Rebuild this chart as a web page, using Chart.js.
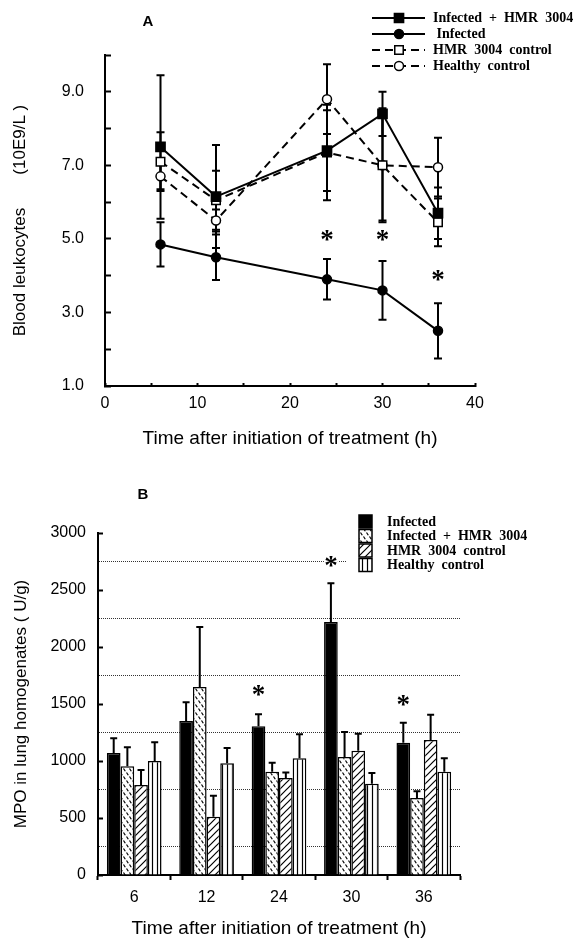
<!DOCTYPE html>
<html>
<head>
<meta charset="utf-8">
<script src="https://cdn.jsdelivr.net/npm/chart.js@4.4.0/dist/chart.umd.min.js"></script>
<style>
  html, body { margin: 0; padding: 0; background: #fff; }
  #wrap { position: relative; width: 581px; height: 946px; }
  #chartA { position: absolute; left: 0; top: 0; }
  #chartB { position: absolute; left: 0; top: 460px; }
</style>
</head>
<body>
<div id="wrap">
  <canvas id="chartA" width="581" height="460"></canvas>
  <canvas id="chartB" width="581" height="486"></canvas>
</div>
<script>
// ---- panel A : blood leukocytes (10E9/L), mean +/- error ----
var timesA = [6, 12, 24, 30, 36];
var infHmrA = [7.5, 6.15, 7.4, 8.4, 5.7];
var infHmrErrA = [1.95, 1.4, 1.1, 0.6, 0.7];
var infectedA = [4.85, 4.5, 3.9, 3.6, 2.5];
var infectedErrA = [0.6, 0.62, 0.55, 0.8, 0.75];
var hmrCtrlA = [7.1, 6.05, 7.35, 7.0, 5.45];
var hmrCtrlErrA = [0.8, 0.8, 1.3, 1.5, 0.65];
var healthyA = [6.7, 5.5, 8.8, 7.0, 6.95];
var healthyErrA = [0.35, 0.3, 0.95, 1.55, 0.8];
var starTimesA = [24, 30, 36];
var starLevelsA = [5.1, 5.1, 4.0];

// ---- panel B : MPO in lung homogenates (U/g) ----
var groupsB = ['6', '12', '24', '30', '36'];
var infectedB = [1070, 1350, 1305, 2220, 1160];
var infectedErrB = [130, 165, 105, 340, 175];
var infHmrB = [955, 1650, 905, 1035, 675];
var infHmrErrB = [165, 525, 80, 220, 60];
var hmrCtrlB = [790, 510, 850, 1090, 1185];
var hmrCtrlErrB = [130, 185, 50, 150, 220];
var healthyB = [1000, 980, 1025, 800, 905];
var healthyErrB = [165, 135, 210, 95, 120];
var starGroupsB = [2, 3, 4];
var starLevelsB = [1620, 2750, 1535];

Chart.defaults.font.family = '"Liberation Sans", Arial, sans-serif';
Chart.defaults.color = '#000';
Chart.defaults.animation = false;

function pts(vals) {
  return timesA.map(function (t, i) { return { x: t, y: vals[i] }; });
}

function drawStar(ctx, x, y) {
  ctx.save();
  ctx.font = 'bold 27px "Liberation Serif", serif';
  ctx.fillStyle = '#000';
  ctx.textAlign = 'center';
  ctx.textBaseline = 'alphabetic';
  var m = ctx.measureText('*');
  ctx.fillText('*', x, y + (m.actualBoundingBoxAscent - m.actualBoundingBoxDescent) / 2);
  ctx.restore();
}

// whiskers + stars + legend for A
var extrasA = {
  id: 'extrasA',
  beforeDatasetsDraw: function (chart) {
    var ctx = chart.ctx, xs = chart.scales.x, ys = chart.scales.y;
    ctx.save();
    ctx.strokeStyle = '#000';
    ctx.lineWidth = 2;
    chart.data.datasets.forEach(function (ds) {
      ds.errors.forEach(function (e, i) {
        var x = xs.getPixelForValue(ds.data[i].x);
        var y1 = ys.getPixelForValue(ds.data[i].y + e);
        var y2 = ys.getPixelForValue(ds.data[i].y - e);
        ctx.beginPath();
        ctx.moveTo(x, y1); ctx.lineTo(x, y2);
        ctx.moveTo(x - 4, y1); ctx.lineTo(x + 4, y1);
        ctx.moveTo(x - 4, y2); ctx.lineTo(x + 4, y2);
        ctx.stroke();
      });
    });
    ctx.restore();
  },
  afterDraw: function (chart) {
    var ctx = chart.ctx, xs = chart.scales.x, ys = chart.scales.y;
    starTimesA.forEach(function (t, i) {
      drawStar(ctx, xs.getPixelForValue(t), ys.getPixelForValue(starLevelsA[i]));
    });
    // title letter
    ctx.save();
    ctx.font = 'bold 15px "Liberation Sans", Arial, sans-serif';
    ctx.textAlign = 'center';
    ctx.textBaseline = 'middle';
    ctx.fillText('A', 148, 22);
    ctx.restore();
    // legend
    chart.data.datasets.forEach(function (ds, row) {
      var y = 18 + row * 16;
      ctx.save();
      ctx.strokeStyle = '#000';
      ctx.lineWidth = 2;
      ctx.setLineDash(ds.borderDash || []);
      ctx.beginPath();
      ctx.moveTo(372, y); ctx.lineTo(425, y);
      ctx.stroke();
      ctx.setLineDash([]);
      ctx.fillStyle = ds.pointBackgroundColor;
      ctx.strokeStyle = '#000';
      ctx.lineWidth = ds.pointBorderWidth;
      Chart.helpers.drawPoint(ctx, { pointStyle: ds.pointStyle, radius: ds.pointRadius, rotation: 0, borderWidth: ds.pointBorderWidth }, 399, y);
      ctx.font = 'bold 14px "Liberation Serif", "Times New Roman", serif';
      ctx.fillStyle = '#000';
      ctx.textBaseline = 'middle';
      ctx.fillText(ds.label, 433, y);
      ctx.restore();
    });
  }
};

new Chart(document.getElementById('chartA'), {
  type: 'line',
  data: {
    datasets: [{
      label: 'Infected  +  HMR  3004',
      data: pts(infHmrA),
      errors: infHmrErrA,
      borderColor: '#000',
      borderWidth: 2,
      pointStyle: 'rect',
      pointRadius: 6.5,
      pointBackgroundColor: '#000',
      pointBorderColor: '#000',
      pointBorderWidth: 1.5
    }, {
      label: ' Infected',
      data: pts(infectedA),
      errors: infectedErrA,
      borderColor: '#000',
      borderWidth: 2,
      pointStyle: 'circle',
      pointRadius: 4.5,
      pointBackgroundColor: '#000',
      pointBorderColor: '#000',
      pointBorderWidth: 1.5
    }, {
      label: 'HMR  3004  control',
      data: pts(hmrCtrlA),
      errors: hmrCtrlErrA,
      borderColor: '#000',
      borderWidth: 2,
      borderDash: [8, 5],
      pointStyle: 'rect',
      pointRadius: 6,
      pointBackgroundColor: '#fff',
      pointBorderColor: '#000',
      pointBorderWidth: 1.5
    }, {
      label: 'Healthy  control',
      data: pts(healthyA),
      errors: healthyErrA,
      borderColor: '#000',
      borderWidth: 2,
      borderDash: [8, 5],
      pointStyle: 'circle',
      pointRadius: 4.5,
      pointBackgroundColor: '#fff',
      pointBorderColor: '#000',
      pointBorderWidth: 1.5
    }]
  },
  options: {
    responsive: false,
    layout: { padding: { left: 0, top: 55, right: 106, bottom: 0 } },
    plugins: { legend: { display: false }, tooltip: { enabled: false } },
    scales: {
      x: {
        type: 'linear', min: 0, max: 40,
        ticks: {
          stepSize: 5, padding: 11, autoSkip: false, maxRotation: 0,
          font: { size: 16 },
          callback: function (v) { return v % 10 === 0 ? String(v) : ''; }
        },
        grid: { drawOnChartArea: false, tickLength: -3, tickWidth: 2, tickColor: '#000' },
        border: { color: '#000', width: 2 },
        title: { display: true, text: 'Time after initiation of treatment (h)', font: { size: 19 }, padding: { top: 0, bottom: 10 } },
        afterFit: function (s) { s.height = 74; }
      },
      y: {
        min: 1, max: 10,
        ticks: {
          stepSize: 1, padding: 27, font: { size: 16 },
          callback: function (v) { return v % 2 === 1 ? v.toFixed(1) : ''; }
        },
        grid: { drawOnChartArea: false, tickLength: -6, tickWidth: 2, tickColor: '#000' },
        border: { color: '#000', width: 2 },
        title: { display: true, text: 'Blood leukocytes       (10E9/L )', font: { size: 17 }, padding: { top: 10, bottom: 0 } },
        afterFit: function (s) { s.width = 105; }
      }
    }
  },
  plugins: [extrasA]
});

// ---- patterns for panel B ----
function makePattern(w, h, draw) {
  var c = document.createElement('canvas');
  c.width = w; c.height = h;
  var g = c.getContext('2d');
  g.fillStyle = '#fff';
  g.fillRect(0, 0, w, h);
  g.strokeStyle = '#000';
  g.lineWidth = 1.2;
  draw(g);
  return g.createPattern(c, 'repeat');
}
var ctxB = document.getElementById('chartB').getContext('2d');
var patDashes = makePattern(6, 8, function (g) {
  g.beginPath();
  g.moveTo(0.5, 0.5); g.lineTo(2.3, 3.3);
  g.moveTo(3.5, 4.5); g.lineTo(5.3, 7.3);
  g.stroke();
});
var patHatch = makePattern(7, 7, function (g) {
  g.beginPath();
  g.moveTo(-1, 8); g.lineTo(8, -1);
  g.moveTo(-2, 2); g.lineTo(2, -2);
  g.moveTo(5, 9); g.lineTo(9, 5);
  g.stroke();
});
var patVert = makePattern(5, 4, function (g) {
  g.beginPath();
  g.moveTo(2.5, 0); g.lineTo(2.5, 4);
  g.stroke();
});

var extrasB = {
  id: 'extrasB',
  afterDatasetsDraw: function (chart) {
    var ctx = chart.ctx, ys = chart.scales.y;
    ctx.save();
    ctx.strokeStyle = '#000';
    ctx.lineWidth = 2;
    chart.data.datasets.forEach(function (ds, di) {
      var meta = chart.getDatasetMeta(di);
      meta.data.forEach(function (bar, i) {
        var x = bar.x;
        var yTop = ys.getPixelForValue(ds.data[i] + ds.errors[i]);
        ctx.beginPath();
        ctx.moveTo(x, bar.y); ctx.lineTo(x, yTop);
        ctx.moveTo(x - 3.5, yTop); ctx.lineTo(x + 3.5, yTop);
        ctx.stroke();
      });
    });
    ctx.restore();
  },
  afterDraw: function (chart) {
    var ctx = chart.ctx, ys = chart.scales.y;
    var meta0 = chart.getDatasetMeta(0);
    starGroupsB.forEach(function (gi, k) {
      var x = meta0.data[gi].x;
      var y = ys.getPixelForValue(starLevelsB[k]);
      ctx.save();
      ctx.fillStyle = '#fff';
      ctx.fillRect(x - 7, y - 6, 14, 12);
      ctx.restore();
      drawStar(ctx, x, y);
    });
    // title letter
    ctx.save();
    ctx.font = 'bold 15px "Liberation Sans", Arial, sans-serif';
    ctx.textAlign = 'center';
    ctx.textBaseline = 'middle';
    ctx.fillStyle = '#000';
    ctx.fillText('B', 143, 35);
    // legend
    ctx.fillStyle = '#fff';
    ctx.fillRect(346, 50, 200, 66);
    chart.data.datasets.forEach(function (ds, row) {
      var by = 55 + row * 14.5;
      ctx.fillStyle = ds.backgroundColor;
      ctx.fillRect(359, by, 13, 13);
      ctx.strokeStyle = '#000';
      ctx.lineWidth = 1.5;
      ctx.strokeRect(359, by, 13, 13);
      ctx.font = 'bold 14px "Liberation Serif", "Times New Roman", serif';
      ctx.fillStyle = '#000';
      ctx.textAlign = 'left';
      ctx.textBaseline = 'middle';
      ctx.fillText(ds.label, 387, by + 7);
    });
    ctx.restore();
  }
};

new Chart(ctxB, {
  type: 'bar',
  data: {
    labels: groupsB,
    datasets: [{
      label: 'Infected',
      data: infectedB, errors: infectedErrB,
      backgroundColor: '#000'
    }, {
      label: 'Infected  +  HMR  3004',
      data: infHmrB, errors: infHmrErrB,
      backgroundColor: patDashes
    }, {
      label: 'HMR  3004  control',
      data: hmrCtrlB, errors: hmrCtrlErrB,
      backgroundColor: patHatch
    }, {
      label: 'Healthy  control',
      data: healthyB, errors: healthyErrB,
      backgroundColor: patVert
    }]
  },
  options: {
    responsive: false,
    layout: { padding: { left: 0, top: 73, right: 121, bottom: 0 } },
    datasets: {
      bar: { categoryPercentage: 0.755, barPercentage: 1.0, borderColor: '#000', borderWidth: 1.5, borderSkipped: 'start' }
    },
    plugins: { legend: { display: false }, tooltip: { enabled: false } },
    scales: {
      x: {
        offset: true,
        ticks: { padding: 8, font: { size: 16 } },
        grid: { offset: true, drawOnChartArea: false, tickLength: 5, tickWidth: 2, tickColor: '#000' },
        border: { color: '#000', width: 2 },
        title: { display: true, text: 'Time after initiation of treatment (h)', font: { size: 19 }, padding: { top: 0, bottom: 6 } },
        afterFit: function (s) { s.height = 71; }
      },
      y: {
        min: 0, max: 3000,
        ticks: {
          stepSize: 250, padding: 17, font: { size: 16 },
          callback: function (v) { return v % 500 === 0 ? String(v) : ''; }
        },
        grid: {
          lineWidth: 1,
          color: function (c) { return (c.tick && c.tick.value % 500 !== 0) ? '#333' : 'rgba(0,0,0,0)'; },
          tickColor: function (c) { return (c.tick && c.tick.value % 500 === 0) ? '#000' : 'rgba(0,0,0,0)'; },
          tickLength: -5, tickWidth: 2
        },
        border: { color: '#000', width: 2, dash: [1, 1] },
        title: { display: true, text: 'MPO in lung homogenates ( U/g)', font: { size: 17 }, padding: { top: 11, bottom: 0 } },
        afterFit: function (s) { s.width = 98; }
      }
    }
  },
  plugins: [extrasB]
});
</script>
</body>
</html>
